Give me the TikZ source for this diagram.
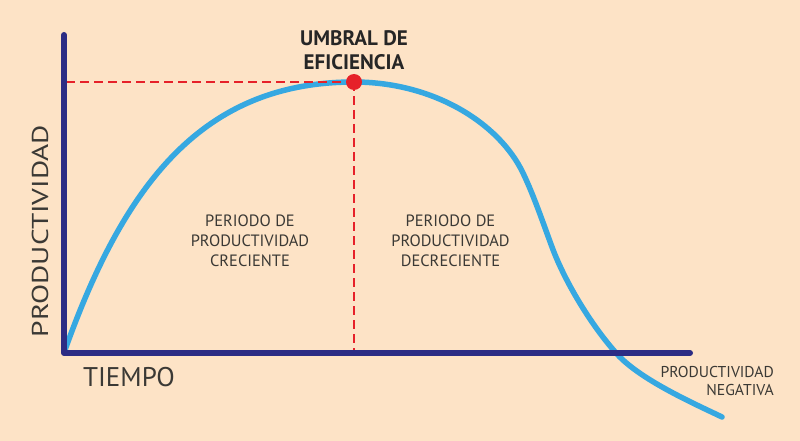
\documentclass[tikz,border=0pt]{standalone}
\usepackage{fontspec}
\setmainfont{PT Sans}
\definecolor{bgc}{HTML}{FDE3C6}
\definecolor{axisc}{HTML}{2C2C84}
\definecolor{curvec}{HTML}{36A8E1}
\definecolor{redc}{HTML}{E62129}
\definecolor{txtc}{HTML}{3B3935}
\begin{document}
\begin{tikzpicture}[x=1pt,y=-1pt,
  axisline/.style={draw=axisc,line width=6pt,line cap=round,line join=round},
  curveline/.style={draw=curvec,line width=5.5pt,line cap=round},
  guide/.style={draw=redc,line width=2.5pt,dash pattern=on 9pt off 5pt},
  lbl/.style={text=txtc,align=center,inner sep=0pt,font=\fontsize{16.4}{20}\selectfont}]
\fill[bgc] (0,0) rectangle (800,441);
\useasboundingbox (0,0) rectangle (800,441);
\coordinate (origin) at (64,353);
\coordinate (ytop) at (64,35);
\coordinate (xend) at (690,353);
\coordinate (peak) at (354,82);
\coordinate (yproj) at (66,82);
\coordinate (xproj) at (354,353);
\coordinate (c0) at (65,350);
\coordinate (c2) at (523,173);
\coordinate (c3) at (552,247);
\coordinate (c4) at (617,354);
\coordinate (c5) at (722,417);
% curve
\draw[curveline] (c0) .. controls (125,182) and (204,82) .. (peak)
  .. controls (434,82) and (499.4,123.5) .. (c2)
  .. controls (533.8,195.5) and (543.3,223.6) .. (c3)
  .. controls (565.9,284.5) and (593.5,328.1) .. (c4)
  .. controls (640.5,380) and (695,404) .. (c5);
% guides
\draw[guide] (yproj) -- (peak);
\draw[guide] (peak) -- (xproj);
% axes
\draw[axisline] (ytop) -- (origin) -- (xend);
% dot
\node[circle,fill=redc,minimum size=16pt,inner sep=0pt] (dot) at (peak) {};
% labels
\node[lbl,font=\bfseries\fontsize{21}{24}\selectfont,text=black!85] (umbral) at (354,50) {UMBRAL DE\\EFICIENCIA};
\node[lbl,rotate=90,font=\fontsize{23}{26}\selectfont] (yl) at (40,231) {\scalebox{1.28}[1]{PRODUCTIVIDAD}};
\node[lbl,font=\fontsize{27}{30}\selectfont] (xl) at (129,377) {TIEMPO};
\node[lbl] (creciente) at (250,240.5) {PERIODO DE\\PRODUCTIVIDAD\\CRECIENTE};
\node[lbl] (decreciente) at (450.5,240.5) {PERIODO DE\\PRODUCTIVIDAD\\DECRECIENTE};
\node[lbl,align=right,anchor=east,font=\fontsize{15.7}{18.5}\selectfont] (neg) at (774,381) {PRODUCTIVIDAD\\NEGATIVA};
\end{tikzpicture}
\end{document}
